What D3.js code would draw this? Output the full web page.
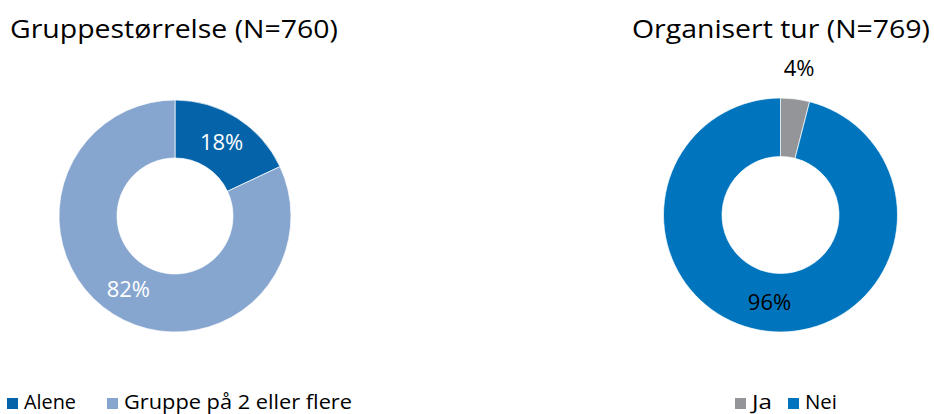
<!DOCTYPE html>
<html><head><meta charset="utf-8">
<script src="https://cdn.jsdelivr.net/npm/d3@7"></script>
<style>
html,body{margin:0;padding:0;background:#fff;}
svg text{font-family:"Century Gothic","URW Gothic","Open Sans","Noto Sans",sans-serif;}
</style></head>
<body>
<svg id="chart" width="934" height="414"></svg>
<script>
const groupCategories = ["Alene", "Gruppe på 2 eller flere"];
const groupValues = [18, 82];
const groupColors = ["#0564A9", "#87A6CF"];
const groupTitle = "Gruppestørrelse (N=760)";

const tourCategories = ["Ja", "Nei"];
const tourValues = [4, 96];
const tourColors = ["#939598", "#0075BD"];
const tourTitle = "Organisert tur (N=769)";

const svg = d3.select("#chart");

function donut(cfg) {
  const g = svg.append("g").attr("transform", `translate(${cfg.cx},${cfg.cy})`);
  const data = cfg.categories.map((c, i) => ({cat: c, value: cfg.values[i], color: cfg.colors[i]}));
  const pie = d3.pie().value(d => d.value).sort(null);
  const arc = d3.arc().innerRadius(cfg.ri).outerRadius(cfg.ro);
  const arcs = pie(data);
  g.selectAll("path").data(arcs).enter().append("path")
    .attr("d", arc).attr("fill", d => d.data.color)
    .attr("stroke", "#fff").attr("stroke-width", 0.7);
  const outer = d3.arc().innerRadius(cfg.ro + 31).outerRadius(cfg.ro + 31);
  g.selectAll("text.lbl").data(arcs).enter().append("text")
    .attr("class", "lbl")
    .attr("transform", (d, i) => `translate(${(cfg.outside[i] ? outer : arc).centroid(d)})`)
    .attr("text-anchor", "middle").attr("dy", "0.36em")
    .attr("font-size", 22)
    .attr("fill", (d, i) => cfg.labelColors[i])
    .text(d => d.data.value + "%");
}

donut({cx: 175, cy: 216, ri: 58, ro: 116, categories: groupCategories, values: groupValues,
  colors: groupColors, labelColors: ["#fff", "#fff"], outside: [false, false]});
donut({cx: 780.5, cy: 215, ri: 58.5, ro: 117, categories: tourCategories, values: tourValues,
  colors: tourColors, labelColors: ["#000", "#000"], outside: [true, false]});

svg.append("text").attr("x", 10).attr("y", 38).attr("font-size", 25).attr("fill", "#000")
  .attr("textLength", 328).attr("lengthAdjust", "spacingAndGlyphs").text(groupTitle);
svg.append("text").attr("x", 632).attr("y", 38).attr("font-size", 25).attr("fill", "#000")
  .attr("textLength", 298).attr("lengthAdjust", "spacingAndGlyphs").text(tourTitle);

function legend(items, colors, xs, widths, y) {
  items.forEach((t, i) => {
    svg.append("rect").attr("x", xs[i]).attr("y", y - 11).attr("width", 11).attr("height", 11).attr("fill", colors[i]);
    svg.append("text").attr("x", xs[i] + 17).attr("y", y).attr("font-size", 20).attr("fill", "#000")
      .attr("textLength", widths[i]).attr("lengthAdjust", "spacingAndGlyphs").text(t);
  });
}
legend(groupCategories, groupColors, [7, 107], [52, 228], 409);
legend(tourCategories, tourColors, [735, 788], [20, 32], 409);
</script>
</body></html>
